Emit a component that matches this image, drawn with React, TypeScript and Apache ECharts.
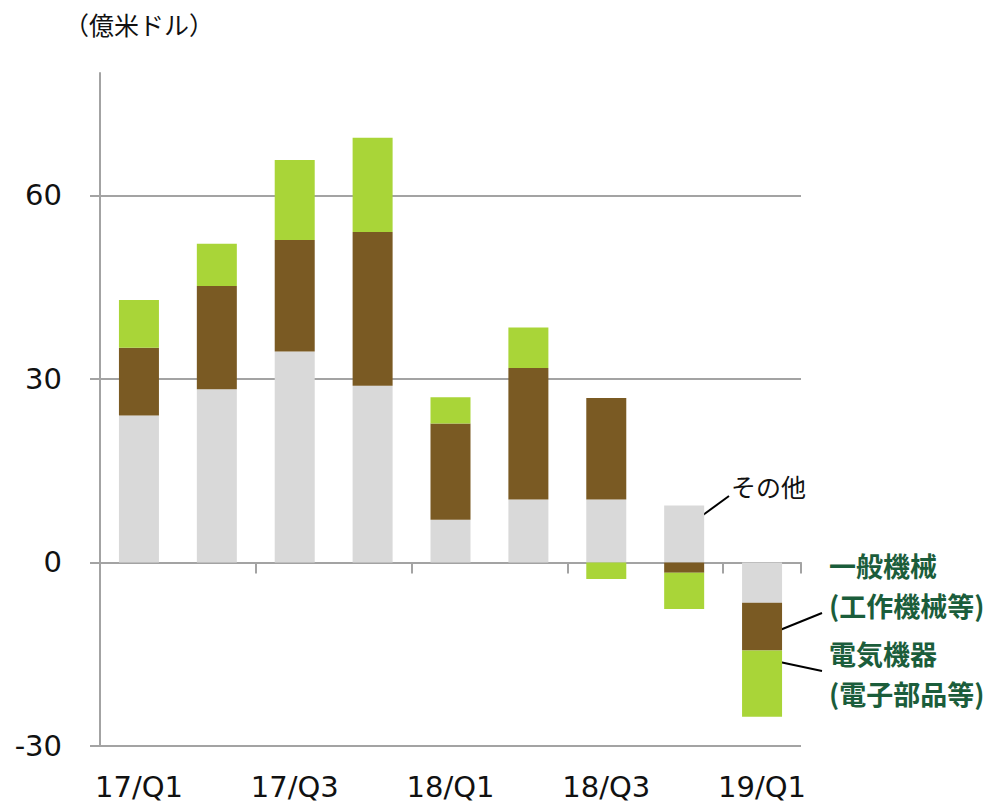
import React, { useEffect, useRef } from "react";
import * as echarts from "echarts";

const categories = ["17/Q1", "17/Q2", "17/Q3", "17/Q4", "18/Q1", "18/Q2", "18/Q3", "18/Q4", "19/Q1"];
const otherValues = [24.0, 28.3, 34.5, 28.9, 7.0, 10.3, 10.3, 9.3, -6.6];
const machineryValues = [11.1, 16.9, 18.2, 25.1, 15.7, 21.5, 16.6, -1.7, -7.8];
const electricValues = [7.8, 6.9, 13.1, 15.4, 4.3, 6.6, -2.7, -5.9, -10.8];
const yTicks = [-30, 0, 30, 60];

const unitLabel = "（億米ドル）";
const otherLabel = "その他";
const machineryLabel = ["一般機械", "(工作機械等)"];
const electricLabel = ["電気機器", "(電子部品等)"];

const GRID_COLOR = "#a3a3a3";
const LATIN = "'DejaVu Sans', 'Noto Sans CJK JP', sans-serif";
const CJK = "'Noto Sans CJK JP', sans-serif";
const ANNOT_GREEN = "#1b5d3b";

export default function App() {
  const ref = useRef<HTMLDivElement>(null);
  useEffect(() => {
    if (!ref.current) return;
    const chart = echarts.init(ref.current, null, { renderer: "svg" });
    const barSeries = (name: string, data: number[], color: string) => ({
      name,
      type: "bar",
      stack: "total",
      data,
      barWidth: 40,
      itemStyle: { color },
      xAxisIndex: 0,
      yAxisIndex: 0,
    });
    const annot = (text: string, y: number) => ({
      type: "text",
      x: 829,
      y,
      style: {
        text,
        font: `bold 27px ${CJK}`,
        fill: ANNOT_GREEN,
        textVerticalAlign: "top",
      },
    });
    chart.setOption({
      animation: false,
      backgroundColor: "#ffffff",
      grid: { left: 100, right: 205, top: 73, bottom: 65, containLabel: false },
      xAxis: [
        {
          type: "category",
          data: categories,
          position: "bottom",
          axisLine: { show: true, onZero: true, lineStyle: { color: GRID_COLOR, width: 2 } },
          axisTick: { show: true, interval: 1, length: 11, lineStyle: { color: GRID_COLOR, width: 2 } },
          axisLabel: { show: false },
          splitLine: { show: false },
        },
        {
          type: "category",
          data: categories,
          position: "bottom",
          axisLine: { show: false, onZero: false },
          axisTick: { show: false },
          axisLabel: {
            show: true,
            interval: 1,
            margin: 26,
            color: "#111",
            fontSize: 29,
            fontFamily: LATIN,
          },
          splitLine: { show: false },
        },
      ],
      yAxis: {
        type: "value",
        min: -30,
        max: 80,
        interval: 30,
        axisLine: { show: true, lineStyle: { color: GRID_COLOR, width: 2 } },
        axisTick: {
          show: true,
          length: 10,
          customValues: yTicks,
          lineStyle: { color: GRID_COLOR, width: 2 },
        },
        axisLabel: {
          show: true,
          customValues: yTicks,
          margin: 38,
          color: "#111",
          fontSize: 29,
          fontFamily: LATIN,
        },
        splitLine: {
          show: true,
          lineStyle: { color: GRID_COLOR, width: 2 },
        },
      },
      series: [
        barSeries("その他", otherValues, "#d9d9d9"),
        barSeries("一般機械", machineryValues, "#7a5a23"),
        barSeries("電気機器", electricValues, "#a9d538"),
      ],
      graphic: [
        {
          type: "text",
          x: 64,
          y: 11,
          style: { text: unitLabel, font: `25px ${CJK}`, fill: "#111", textVerticalAlign: "top" },
        },
        {
          type: "line",
          shape: { x1: 703, y1: 515, x2: 729, y2: 496 },
          style: { stroke: "#000", lineWidth: 2 },
        },
        {
          type: "text",
          x: 731,
          y: 473,
          style: { text: otherLabel, font: `25px ${CJK}`, fill: "#111", textVerticalAlign: "top" },
        },
        {
          type: "line",
          shape: { x1: 775, y1: 632, x2: 822, y2: 613 },
          style: { stroke: "#000", lineWidth: 2 },
        },
        {
          type: "line",
          shape: { x1: 775, y1: 661, x2: 822, y2: 671 },
          style: { stroke: "#000", lineWidth: 2 },
        },
        annot(machineryLabel[0], 552),
        annot(machineryLabel[1], 592),
        annot(electricLabel[0], 640),
        annot(electricLabel[1], 680),
      ],
    });
    return () => chart.dispose();
  }, []);
  return (
    <div
      ref={ref}
      style={{ position: "fixed", left: 0, top: 0, width: 1006, height: 811, background: "#fff" }}
    />
  );
}
